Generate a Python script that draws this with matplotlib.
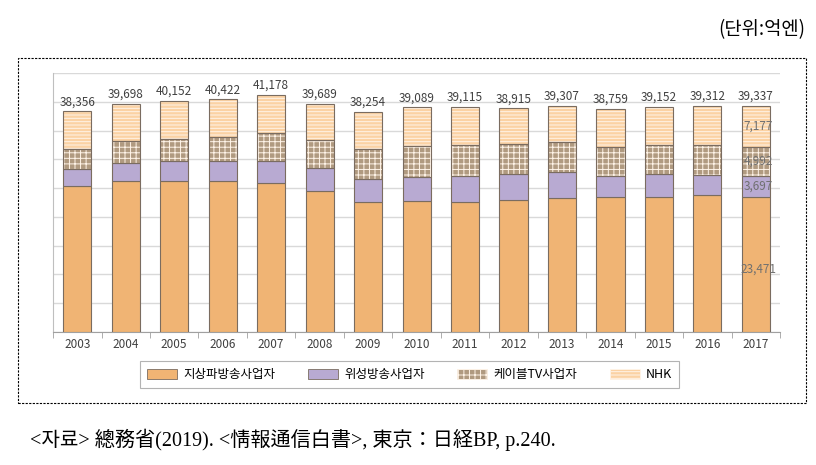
import matplotlib.pyplot as plt
import numpy as np
from matplotlib.patches import Rectangle

plt.rcParams['font.family'] = ['Noto Sans CJK KR', 'DejaVu Sans']
plt.rcParams['hatch.linewidth'] = 0.7

years = ['2003', '2004', '2005', '2006', '2007', '2008', '2009', '2010',
         '2011', '2012', '2013', '2014', '2015', '2016', '2017']
terrestrial = [25380, 26260, 26260, 26260, 25900, 24520, 22580, 22750,
               22580, 22930, 23290, 23450, 23510, 23860, 23471]
satellite = [2990, 3150, 3440, 3490, 3850, 4030, 4040, 4220,
             4560, 4560, 4560, 3690, 3860, 3450, 3697]
cable = [3380, 3690, 3920, 4050, 4750, 4790, 5260, 5430,
         5270, 5140, 5140, 5090, 5090, 5150, 4992]
nhk = [6606, 6598, 6532, 6622, 6678, 6349, 6374, 6689,
       6705, 6285, 6317, 6529, 6692, 6852, 7177]
names = ['지상파방송사업자', '위성방송사업자', '케이블TV사업자', 'NHK']

colors = ['#F0B474', '#B8AAD2', '#B09A80', '#FBD2A4']
hatches = [None, None, '+++', '-----']
edge = '#7A6C60'

fig = plt.figure(figsize=(8.16, 4.65), dpi=100)
ax = fig.add_axes([0.065, 0.286, 0.891, 0.557])

x = np.arange(len(years))
w = 0.58
bottom = np.zeros(len(years))
handles = []
for vals, c, h, n in zip([terrestrial, satellite, cable, nhk], colors, hatches, names):
    vals = np.array(vals)
    if h:
        ax.bar(x, vals, w, bottom=bottom, color=c, hatch=h, edgecolor='#FFF4E8',
               linewidth=0, zorder=3)
        ax.bar(x, vals, w, bottom=bottom, fill=False, edgecolor=edge,
               linewidth=0.8, zorder=4)
    else:
        ax.bar(x, vals, w, bottom=bottom, color=c, edgecolor=edge,
               linewidth=0.8, zorder=3)
    handles.append(Rectangle((0, 0), 1, 1, facecolor=c, hatch=h,
                             edgecolor='#FFF4E8' if h else edge, linewidth=0.6))
    bottom = bottom + vals

for i, t in enumerate(bottom):
    ax.text(i, t + 500, f'{int(t):,}', ha='center', va='bottom',
            fontsize=8.5, color='#404040', zorder=5)

# segment labels for the last year
last = len(years) - 1
seg_b = 0
for vals in [terrestrial, satellite, cable, nhk]:
    v = vals[last]
    ypos = seg_b + v / 2 if vals is not terrestrial else 11000
    ax.text(last + 0.05, ypos, f'{v:,}', ha='center', va='center',
            fontsize=8.5, color='#707070', zorder=6)
    seg_b += v

ax.set_xlim(-0.5, len(years) - 0.5)
ax.set_ylim(0, 45000)
ax.set_yticks(np.arange(0, 45001, 5000))
ax.yaxis.grid(True, color='#D9D9D9', linewidth=1, zorder=0)
ax.tick_params(axis='y', length=0, labelleft=False)
ax.set_xticks(x)
ax.set_xticklabels(years, fontsize=8.5, color='#404040')
ax.tick_params(axis='x', length=0, pad=4)
ax.set_xticks(np.arange(-0.5, len(years), 1), minor=True)
ax.tick_params(axis='x', which='minor', length=4, color='#A0A0A0', direction='out')
for s in ['top', 'right']:
    ax.spines[s].set_visible(False)
ax.spines['left'].set_color('#BFBFBF')
ax.spines['bottom'].set_color('#A0A0A0')

leg = fig.legend(handles, names, loc='center', bbox_to_anchor=(0.502, 0.194),
                 ncol=4, fontsize=9, frameon=True, fancybox=False, shadow=False,
                 edgecolor='#A0A0A0', handlelength=2.4, handleheight=0.9,
                 columnspacing=2.6, borderpad=0.55, handletextpad=0.5,
                 borderaxespad=0)
leg.get_frame().set_linewidth(0.8)

# dashed outer frame
fig.patches.append(Rectangle((18 / 816, 1 - 403 / 465), 788 / 816, 345 / 465,
                             transform=fig.transFigure, fill=False,
                             edgecolor='black', linewidth=0.8,
                             linestyle=(0, (2, 1.2))))

fig.text(0.987, 1 - 30 / 465, '(단위:억엔)', ha='right', va='center',
         fontsize=13.5, color='black')
fig.text(30 / 816, 1 - 440 / 465,
         '<자료> 總務省(2019). <情報通信白書>, 東京：日経BP, p.240.',
         ha='left', va='center', fontsize=14.5, color='black',
         family=['Liberation Serif', 'Noto Sans CJK KR'])

fig.savefig('out.png', dpi=100)
